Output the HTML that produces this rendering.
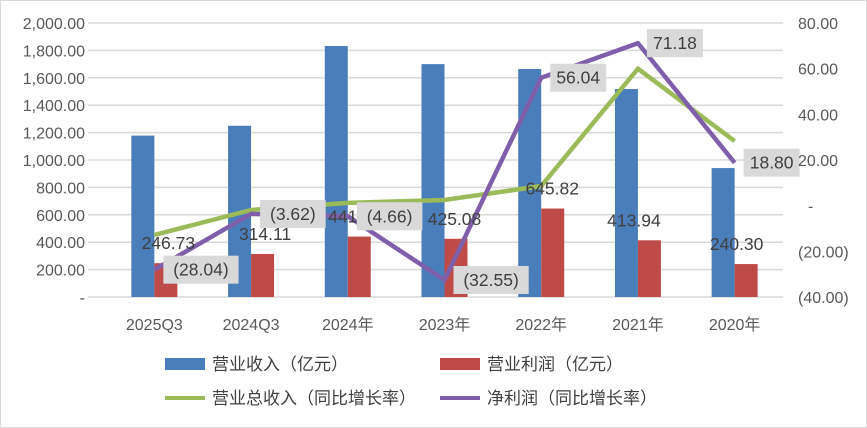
<!DOCTYPE html>
<html><head><meta charset="utf-8"><style>
body{margin:0;background:#fff}
svg{display:block;font-family:"Liberation Sans","Noto Sans CJK SC",sans-serif}
</style></head><body>
<svg id="c" width="867" height="428">
<rect x="0.5" y="0.5" width="866" height="427" fill="#fff" stroke="#d9d9d9"/>
<g id="grid"></g><g id="bars"></g><g id="lines"></g><g id="labels"></g><g id="axes"></g>
<g id="legend">
<rect x="165" y="358" width="40" height="12" fill="#4a7ebb"/>
<text x="212" y="370" font-size="17" fill="#404040">营业收入（亿元）</text>
<rect x="440" y="358" width="40" height="12" fill="#be4b48"/>
<text x="487" y="370" font-size="17" fill="#404040">营业利润（亿元）</text>
<line x1="165" y1="398" x2="205" y2="398" stroke="#9bbb59" stroke-width="4"/>
<text x="212" y="404" font-size="17" fill="#404040">营业总收入（同比增长率）</text>
<line x1="440" y1="398" x2="480" y2="398" stroke="#7f5fa9" stroke-width="4"/>
<text x="487" y="404" font-size="17" fill="#404040">净利润（同比增长率）</text>
</g>
</svg>
<script>
const categories=["2025Q3","2024Q3","2024年","2023年","2022年","2021年","2020年"];
const revenue=[1178,1250,1832,1700,1664,1518,941];
const opProfit=[246.73,314.11,441,425.08,645.82,413.94,240.30];
const revenueGrowth=[-12.8,-1.9,1.2,2.5,8.6,60.0,28.3];
const profitGrowth=[-28.04,-3.62,-4.66,-32.55,56.04,71.18,18.80];
const leftTicks=[0,200,400,600,800,1000,1200,1400,1600,1800,2000];
const leftTickLabels=["-","200.00","400.00","600.00","800.00","1,000.00","1,200.00","1,400.00","1,600.00","1,800.00","2,000.00"];
const rightTicks=[-40,-20,0,20,40,60,80];
const rightTickLabels=["(40.00)","(20.00)","-","20.00","40.00","60.00","80.00"];
const profitLabels=["246.73","314.11","441","425.08","645.82","413.94","240.30"];
const growthLabels=["(28.04)","(3.62)","(4.66)","(32.55)","56.04","71.18","18.80"];

const NS="http://www.w3.org/2000/svg";
const X0=106,X1=783,Y0=297,Y1=23;
const band=(X1-X0)/categories.length;
const cx=i=>X0+band*(i+0.5);
const yL=v=>Y0-(v/2000)*(Y0-Y1);
const yR=v=>Y0-((v+40)/120)*(Y0-Y1);
const profitLabelDx=[14,14,-5,10,11,-4,2];
function mk(p,tag,a){const e=document.createElementNS(NS,tag);for(const k in a)e.setAttribute(k,a[k]);document.getElementById(p).appendChild(e);return e;}
leftTicks.forEach((t,i)=>{
 const l=mk("grid","line",{x1:88,x2:X1,y1:yL(t),y2:yL(t),stroke:"#d9d9d9","stroke-width":1.5});
 
 
 const tx=mk("axes","text",{x:85,y:yL(t)+6,"text-anchor":"end","font-size":16,fill:"#595959"});
 tx.textContent=leftTickLabels[i];
 
 
});
rightTicks.forEach((t,i)=>{
 const tx=mk("axes","text",{x:rightTickLabels[i]=="-"?808:798,y:yR(t)+6,"font-size":16,fill:"#595959"});
 tx.textContent=rightTickLabels[i];
 
 
});
const bw=23;
categories.forEach((c,i)=>{
 const b=mk("bars","rect",{x:cx(i)-bw,y:yL(revenue[i]),width:bw,height:Y0-yL(revenue[i]),fill:"#4a7ebb"});
 
 
 const r=mk("bars","rect",{x:cx(i),y:yL(opProfit[i]),width:bw,height:Y0-yL(opProfit[i]),fill:"#be4b48"});
 
 
 const t=mk("axes","text",{x:cx(i),y:330,"text-anchor":"middle","font-size":16,fill:"#595959"});
 t.textContent=c;
 
 
});
function line(arr,col,name){
 const p=mk("lines","polyline",{points:arr.map((v,i)=>cx(i)+","+yR(v)).join(" "),fill:"none",stroke:col,"stroke-width":4.5,"stroke-linejoin":"round"});
 
 
}
line(revenueGrowth,"#9bbb59","line-revenue-growth");
line(profitGrowth,"#7f5fa9","line-profit-growth");
opProfit.forEach((v,i)=>{
 const t=mk("labels","text",{x:cx(i)+profitLabelDx[i],y:yL(v)-20+6,"text-anchor":"middle","font-size":17.5,fill:"#404040"});
 t.textContent=profitLabels[i];
 
 
});
profitGrowth.forEach((v,i)=>{
 const x=cx(i)+9,y=yR(v);
 const w=growthLabels[i].length*9.6+8;
 const bx=mk("labels","rect",{x:x,y:y-14,width:w,height:28,fill:"#d9d9d9"});
 
 
 const t=mk("labels","text",{x:x+w/2,y:y+6,"text-anchor":"middle","font-size":17.5,fill:"#404040"});
 t.textContent=growthLabels[i];
 
 
});
</script>
</body></html>
